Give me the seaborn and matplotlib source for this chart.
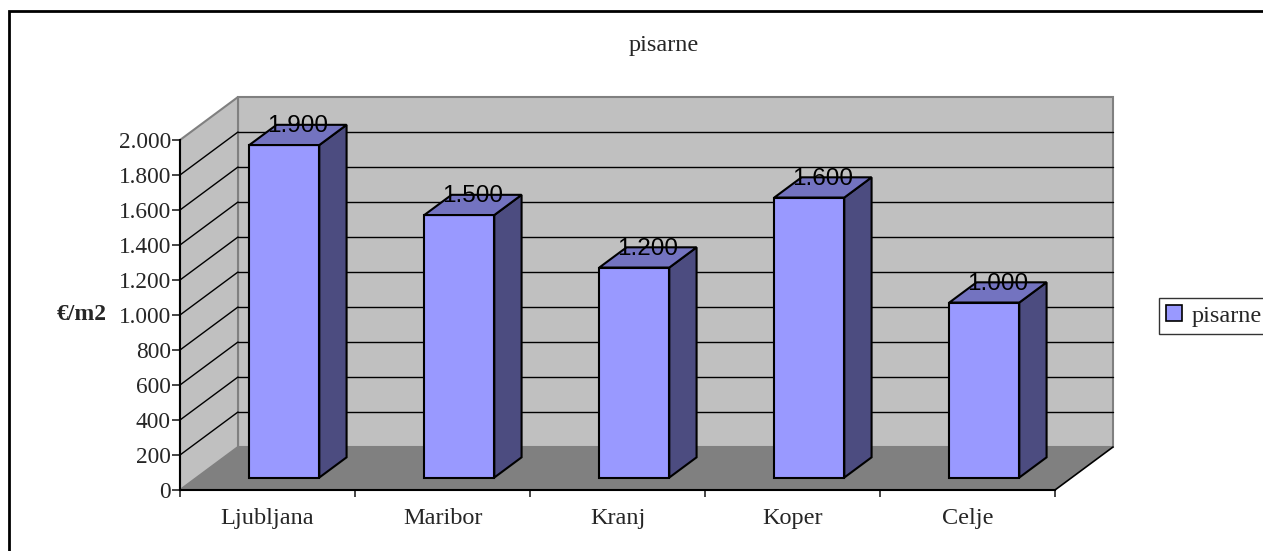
import matplotlib
matplotlib.use("Agg")
import matplotlib.pyplot as plt
import seaborn as sns
import pandas as pd
from matplotlib.patches import Polygon, Rectangle
from matplotlib.lines import Line2D
from matplotlib.ticker import FuncFormatter, FixedLocator

# ---- data ----
cities = ["Ljubljana", "Maribor", "Kranj", "Koper", "Celje"]
values = [1900, 1500, 1200, 1600, 1000]
series_name = "pisarne"
title_text = "pisarne"
y_label = "€/m2"
y_ticks = list(range(0, 2001, 200))

sns.set_style("white")
plt.rcParams["font.family"] = ["Liberation Serif", "DejaVu Serif"]

W, H = 1263, 551
fig = plt.figure(figsize=(W / 100, H / 100), dpi=100)
fig.patch.set_facecolor("white")

# front plane of the 3D box in pixels
ax_l, ax_r, ax_top, ax_bot = 180, 1055, 140, 490
ax = fig.add_axes([ax_l / W, (H - ax_bot) / H, (ax_r - ax_l) / W, (ax_bot - ax_top) / H])
ax.set_xlim(-0.5, len(cities) - 0.5)
ax.set_ylim(0, 2000)
ax.patch.set_alpha(0)

# pixel -> data units
ux = (len(cities)) / (ax_r - ax_l)
uy = 2000 / (ax_bot - ax_top)
DX, DY = 58 * ux, 43 * uy          # full depth
f1, f2 = 0.29, 0.76                # bar front / back depth fractions

wall_c, floor_c, edge_grey = "#C0C0C0", "#808080", "#808080"
x0w, x1w = -0.5, len(cities) - 0.5

# back wall
ax.add_patch(Polygon([(x0w + DX, DY), (x1w + DX, DY), (x1w + DX, 2000 + DY), (x0w + DX, 2000 + DY)],
                     closed=True, facecolor=wall_c, edgecolor=edge_grey, lw=1.5, zorder=0.5, clip_on=False))
# left wall
ax.add_patch(Polygon([(x0w, 0), (x0w, 2000), (x0w + DX, 2000 + DY), (x0w + DX, DY)],
                     closed=True, facecolor=wall_c, edgecolor=edge_grey, lw=1.5, zorder=0.5, clip_on=False))
# gridlines
for v in y_ticks[1:-1]:
    ax.add_line(Line2D([x0w + DX, x1w + DX], [v + DY, v + DY], color="black", lw=1.0, zorder=0.6, clip_on=False))
    ax.add_line(Line2D([x0w, x0w + DX], [v, v + DY], color="black", lw=1.0, zorder=0.6, clip_on=False))
# floor
ax.add_patch(Polygon([(x0w, 0), (x1w, 0), (x1w + DX, DY), (x0w + DX, DY)],
                     closed=True, facecolor=floor_c, edgecolor="none", zorder=0.7, clip_on=False))
ax.add_line(Line2D([x1w, x1w + DX], [0, DY], color="black", lw=1.2, zorder=0.8, clip_on=False))

# bars (front faces) via seaborn
df = pd.DataFrame({"city": cities, "value": values})
sns.barplot(data=df, x="city", y="value", color="#9999FF", saturation=1, width=0.4,
            edgecolor="black", linewidth=1.5, ax=ax, zorder=3)

ddx, ddy = (f2 - f1) * DX, (f2 - f1) * DY
for p, v in zip(ax.patches[-len(values):], values):
    p.set_x(p.get_x() + f1 * DX)
    p.set_y(f1 * DY)
    p.set_clip_on(False)
    p.set_zorder(3)
    xa, xb = p.get_x(), p.get_x() + p.get_width()
    b, t = p.get_y(), p.get_y() + p.get_height()
    ax.add_patch(Polygon([(xb, b), (xb, t), (xb + ddx, t + ddy), (xb + ddx, b + ddy)], closed=True,
                         facecolor="#4C4C80", edgecolor="black", lw=1.5, zorder=3, clip_on=False))
    ax.add_patch(Polygon([(xa, t), (xb, t), (xb + ddx, t + ddy), (xa + ddx, t + ddy)], closed=True,
                         facecolor="#7373C0", edgecolor="black", lw=1.5, zorder=3, clip_on=False))
    ax.text((xa + xb) / 2 + ddx / 2, t + ddy - 1.5 * uy, f"{v:,}".replace(",", "."),
            ha="center", va="center", fontsize=17.5, family=["Liberation Sans", "DejaVu Sans"],
            color="black", zorder=4, clip_on=False)

# axes styling
for s in ["top", "right"]:
    ax.spines[s].set_visible(False)
for s in ["left", "bottom"]:
    ax.spines[s].set_color("black")
    ax.spines[s].set_linewidth(1.5)
    ax.spines[s].set_zorder(2.5)

ax.yaxis.set_major_locator(FixedLocator(y_ticks))
ax.yaxis.set_major_formatter(FuncFormatter(lambda v, _: f"{int(v):,}".replace(",", ".")))
ax.tick_params(axis="y", direction="out", length=6, width=1.2, pad=0.5, labelsize=16.8, left=True)

ax.xaxis.set_major_locator(FixedLocator([i - 0.5 for i in range(len(cities) + 1)]))
ax.xaxis.set_major_formatter(FuncFormatter(lambda v, _: ""))
ax.xaxis.set_minor_locator(FixedLocator(list(range(len(cities)))))
ax.set_xticklabels(cities, minor=True)
ax.tick_params(axis="x", which="major", direction="out", length=5, width=1.2, bottom=True)
ax.tick_params(axis="x", which="minor", length=0, pad=13, labelsize=17.5)
ax.set_xlabel("")

ax.set_ylabel(y_label, rotation=0, fontsize=17, fontweight="bold", ha="center", va="center")
ax.yaxis.set_label_coords((82 - ax_l) / (ax_r - ax_l), 0.5)

fig.text(664 / W, 1 - 45 / H, title_text, ha="center", va="center", fontsize=17.5)

# legend
leg = ax.legend(handles=[Rectangle((0, 0), 1, 1, facecolor="#9999FF", edgecolor="black", lw=1.2)],
                labels=[series_name], loc="center left", bbox_to_anchor=(1159 / W, 1 - 316 / H),
                bbox_transform=fig.transFigure, frameon=True, fancybox=False, fontsize=17.5,
                handlelength=0.65, handleheight=0.65, handletextpad=0.4, borderpad=0.3, borderaxespad=0)
leg.get_frame().set_edgecolor("black")
leg.get_frame().set_linewidth(1.0)

# outer chart border
fig.add_artist(Rectangle((8.5 / W, -0.1), 1.2, (H - 10.5) / H + 0.1, transform=fig.transFigure,
                         fill=False, edgecolor="black", lw=2, zorder=10))

fig.savefig("out.png", dpi=100)
